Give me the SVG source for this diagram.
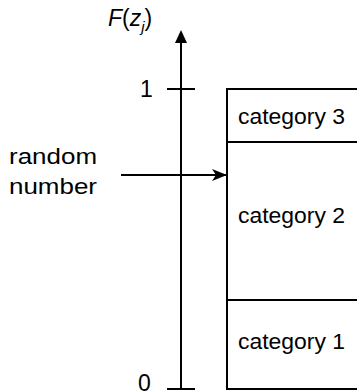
<svg xmlns="http://www.w3.org/2000/svg" width="357" height="392" viewBox="0 0 357 392">
<style>
.t{font-family:"Liberation Sans",Arial,sans-serif;font-size:22px;fill:#000}
.big{font-size:23px}
.ln{stroke:#000;stroke-width:2;fill:none}
</style>
<defs>
<marker id="ah" markerUnits="userSpaceOnUse" markerWidth="16" markerHeight="12" refX="15" refY="6" orient="auto">
<path d="M0,0 L15,6 L0,12 L4,6 Z" fill="#000"/>
</marker>
</defs>
<rect width="357" height="392" fill="#fff"/>
<g id="axis">
<line class="ln" x1="181" y1="389" x2="181" y2="40"/>
<polygon points="181,30 175,43 187,43" fill="#000"/>
<line class="ln" x1="167" y1="89" x2="195" y2="89"/>
<line class="ln" x1="167" y1="389" x2="195" y2="389"/>
<text class="t big" x="108" y="26"><tspan font-style="italic">F</tspan>(<tspan font-style="italic">z</tspan><tspan font-style="italic" font-size="15" dy="6">j</tspan><tspan dy="-6">)</tspan></text>
<text class="t big" x="140" y="97">1</text>
<text class="t big" x="138" y="391">0</text>
</g>
<g id="category3">
<rect class="ln" x="227" y="89" width="140" height="53"/>
<text class="t" x="238" y="124" textLength="107" lengthAdjust="spacingAndGlyphs">category 3</text>
</g>
<g id="category2">
<rect class="ln" x="227" y="142" width="140" height="158"/>
<text class="t" x="238" y="223" textLength="107" lengthAdjust="spacingAndGlyphs">category 2</text>
</g>
<g id="category1">
<rect class="ln" x="227" y="300" width="140" height="89"/>
<text class="t" x="238" y="349" textLength="107" lengthAdjust="spacingAndGlyphs">category 1</text>
</g>
<g id="random">
<text class="t" x="9" y="164" textLength="88" lengthAdjust="spacingAndGlyphs">random</text>
<text class="t" x="9" y="194" textLength="88" lengthAdjust="spacingAndGlyphs">number</text>
</g>
<g id="connectors">
<line class="ln" x1="121" y1="175" x2="227" y2="175" marker-end="url(#ah)"/>
</g>
</svg>
